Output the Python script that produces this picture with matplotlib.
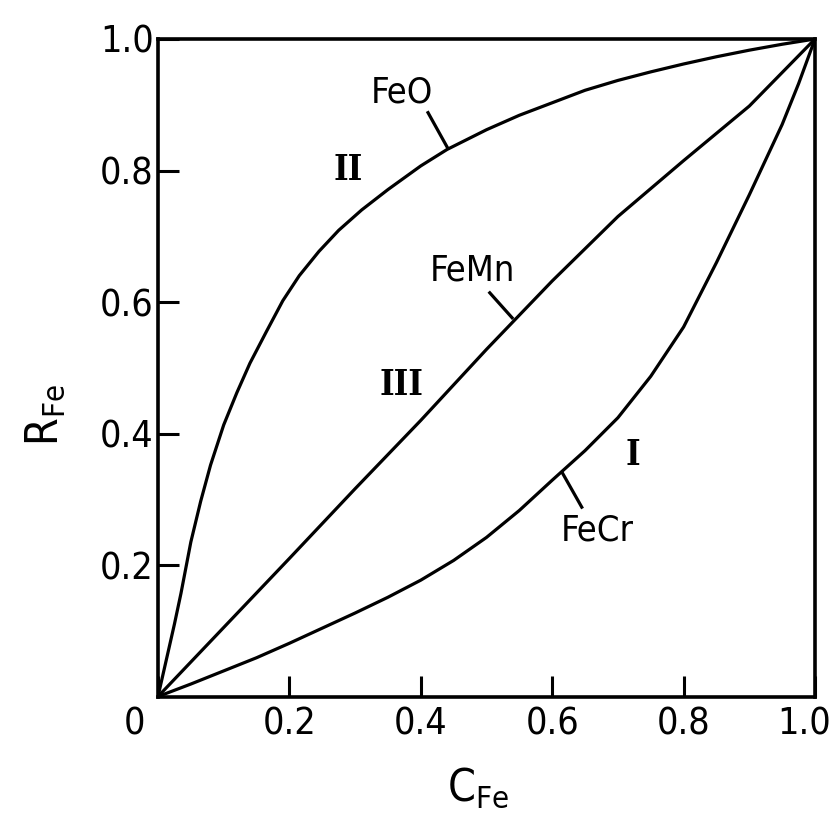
import matplotlib
matplotlib.use("Agg")
import matplotlib.pyplot as plt
from matplotlib.transforms import ScaledTranslation

plt.rcParams['font.family'] = ['DejaVu Sans']
plt.rcParams['font.stretch'] = 'condensed'
plt.rcParams['mathtext.default'] = 'regular'

# curve II (FeO)
feo_c = [0.0, 0.005, 0.015, 0.025, 0.035, 0.05, 0.065, 0.08, 0.1, 0.12, 0.14, 0.165, 0.19,
         0.215, 0.245, 0.275, 0.31, 0.35, 0.4, 0.44, 0.5, 0.55, 0.6, 0.65, 0.7, 0.75, 0.8,
         0.85, 0.9, 0.95, 1.0]
feo_r = [0.0, 0.022, 0.066, 0.11, 0.157, 0.235, 0.297, 0.352, 0.413, 0.462, 0.507, 0.555, 0.602,
         0.640, 0.677, 0.709, 0.740, 0.771, 0.807, 0.832, 0.862, 0.884, 0.903, 0.922, 0.937, 0.950,
         0.962, 0.973, 0.983, 0.992, 1.0]

# curve III (FeMn)
femn_c = [0.0, 0.1, 0.2, 0.3, 0.4, 0.5, 0.6, 0.7, 0.8, 0.9, 1.0]
femn_r = [0.0, 0.105, 0.21, 0.316, 0.420, 0.528, 0.632, 0.730, 0.815, 0.898, 1.0]

# curve I (FeCr)
fecr_c = [0.0, 0.05, 0.1, 0.15, 0.2, 0.25, 0.3, 0.35, 0.4, 0.45, 0.5, 0.55, 0.6, 0.65, 0.7,
          0.75, 0.8, 0.85, 0.9, 0.95, 0.975, 1.0]
fecr_r = [0.0, 0.019, 0.039, 0.059, 0.081, 0.104, 0.127, 0.151, 0.177, 0.207, 0.242, 0.283,
          0.329, 0.374, 0.424, 0.487, 0.562, 0.660, 0.763, 0.870, 0.932, 1.0]

tick_vals = [0.0, 0.2, 0.4, 0.6, 0.8, 1.0]
tick_text = ['0', '0.2', '0.4', '0.6', '0.8', '1.0']

fig = plt.figure(figsize=(8.39, 8.21), dpi=100)
ax = fig.add_axes([0.1883, 0.1516, 0.7831, 0.8009])

lw = 2.3
ax.plot(feo_c, feo_r, color='black', lw=lw)
ax.plot(femn_c, femn_r, color='black', lw=lw)
ax.plot(fecr_c, fecr_r, color='black', lw=lw)

ax.set_xlim(0, 1)
ax.set_ylim(0, 1)

for s in ax.spines.values():
    s.set_linewidth(2.6)

ax.set_xticks(tick_vals)
ax.set_xticklabels(tick_text)
ax.set_yticks(tick_vals[1:])
ax.set_yticklabels(tick_text[1:])
ax.tick_params(direction='in', length=15, width=2.2, labelsize=27, pad=7)
ax.tick_params(axis='y', pad=3)

# shared "0" sits left of the corner, "1.0" is pulled in from the edge
xlabels = ax.get_xticklabels()
xlabels[0].set_transform(xlabels[0].get_transform() + ScaledTranslation(-17 / 72, 0, fig.dpi_scale_trans))
xlabels[-1].set_transform(xlabels[-1].get_transform() + ScaledTranslation(-8 / 72, 0, fig.dpi_scale_trans))

# curve labels with leader ticks
ax.plot([0.441, 0.411], [0.834, 0.888], color='black', lw=lw)
ax.text(0.371, 0.919, 'FeO', fontsize=26, ha='center', va='center')
ax.plot([0.539, 0.505], [0.576, 0.614], color='black', lw=lw)
ax.text(0.479, 0.648, 'FeMn', fontsize=26, ha='center', va='center')
ax.plot([0.615, 0.645], [0.341, 0.288], color='black', lw=lw)
ax.text(0.668, 0.253, 'FeCr', fontsize=26, ha='center', va='center')

roman = dict(family=['DejaVu Serif'], fontsize=25, weight='bold', ha='center', va='center')
ax.text(0.289, 0.801, 'II', **roman)
ax.text(0.371, 0.474, 'III', **roman)
ax.text(0.723, 0.367, 'I', **roman)

fig.text(478 / 839, 1 - 788 / 821, r'C$_{Fe}$', fontsize=32, ha='center', va='center')
fig.text(45 / 839, 1 - 415 / 821, r'R$_{Fe}$', fontsize=32, ha='center', va='center', rotation=90)

fig.savefig('out.png', dpi=100)
